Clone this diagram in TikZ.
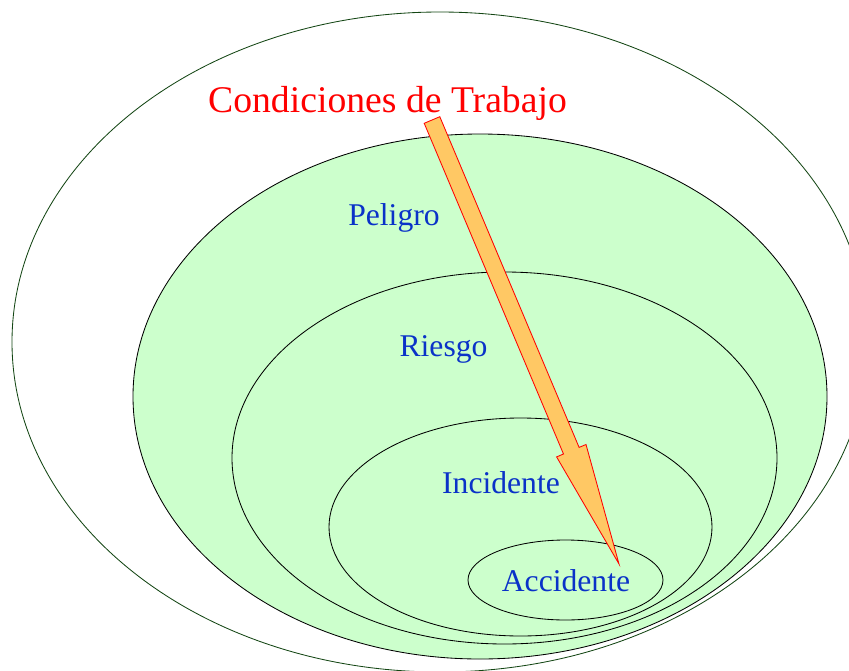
\documentclass[tikz,border=0pt]{standalone}
\usepackage{fontspec}
\setmainfont{Liberation Serif}
\definecolor{outergreen}{RGB}{20,70,20}
\definecolor{fillgreen}{RGB}{204,255,204}
\definecolor{arrowfill}{RGB}{255,200,100}
\definecolor{labelblue}{RGB}{10,50,200}
\begin{document}
\begin{tikzpicture}[x=0.025cm,y=-0.025cm,
  ring/.style={draw=black,line width=0.6pt},
  outerring/.style={draw=outergreen,line width=0.6pt},
  bigarrow/.style={draw=red,fill=arrowfill,line width=0.6pt,line join=miter},
  levellabel/.style={text=labelblue,font=\fontsize{22.5}{26}\selectfont,anchor=base,inner sep=0pt},
  titlelabel/.style={text=red,font=\fontsize{26.8}{31}\selectfont,anchor=base,inner sep=0pt}]
\useasboundingbox (0,0) rectangle (849,671);
\clip (0,0) rectangle (849,671);
% outer ellipse
\draw[outerring] (440,342) ellipse [x radius=428, y radius=330];
% nested ellipses
\draw[ring,fill=fillgreen] (480,396.5) ellipse [x radius=347, y radius=262.5];
\draw[ring] (504.5,458) ellipse [x radius=272.5, y radius=186];
\draw[ring] (520.5,527) ellipse [x radius=191.5, y radius=109];
\draw[ring] (565.5,580) ellipse [x radius=97.5, y radius=40];
% arrow
\coordinate (tail) at (432,120);
\coordinate (tip) at (619,564);
\filldraw[bigarrow] (439.8,116.7) -- (579.1,447.4) -- (586.0,444.5) -- (tip)
  -- (556.6,456.9) -- (563.5,454.0) -- (424.2,123.3) -- cycle;
% labels
\node[titlelabel] (title) at (387.5,112) {Condiciones de Trabajo};
\node[levellabel] (peligro) at (394,225) {Peligro};
\node[levellabel] (riesgo) at (443.5,356) {Riesgo};
\node[levellabel] (incidente) at (501,493) {Incidente};
\node[levellabel] (accidente) at (566,591) {Accidente};
\end{tikzpicture}
\end{document}
